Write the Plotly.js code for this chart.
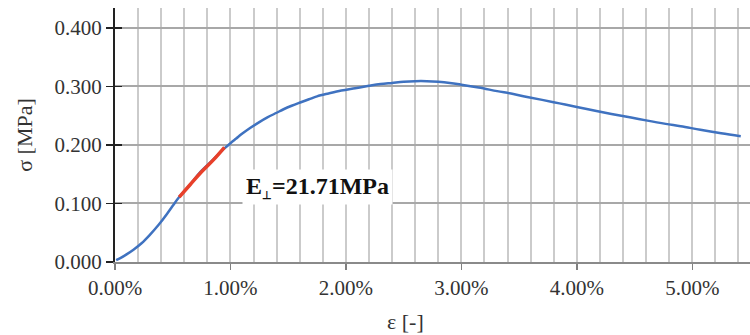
<!DOCTYPE html>
<html>
<head>
<meta charset="utf-8">
<script src="https://cdn.plot.ly/plotly-3.0.1.min.js"></script>
<style>html,body{margin:0;padding:0;background:#fff;}#chart{width:750px;height:335px;}</style>
</head>
<body>
<div id="chart"></div>
<script>
// strain in %, stress in MPa
const strain = [0.01, 0.05, 0.10, 0.16, 0.23, 0.30, 0.38, 0.45, 0.50, 0.556, 0.65, 0.74, 0.85, 0.948, 1.00, 1.05, 1.10, 1.17, 1.25, 1.32, 1.40, 1.46, 1.53, 1.61, 1.68, 1.75, 1.85, 1.96, 2.08, 2.20, 2.30, 2.40, 2.50, 2.60, 2.70, 2.80, 2.90, 3.00, 3.15, 3.31, 3.45, 3.57, 3.70, 3.85, 4.00, 4.17, 4.30, 4.47, 4.60, 4.77, 4.90, 5.07, 5.25, 5.42];
const stress = [0.003, 0.007, 0.013, 0.021, 0.032, 0.046, 0.064, 0.082, 0.096, 0.111, 0.132, 0.154, 0.175, 0.194, 0.203, 0.211, 0.219, 0.229, 0.239, 0.247, 0.255, 0.261, 0.267, 0.273, 0.278, 0.283, 0.288, 0.293, 0.297, 0.301, 0.304, 0.306, 0.308, 0.309, 0.309, 0.308, 0.306, 0.303, 0.298, 0.292, 0.287, 0.282, 0.277, 0.271, 0.265, 0.258, 0.253, 0.247, 0.242, 0.236, 0.232, 0.226, 0.220, 0.215];
const fitStrain = [0.556, 0.65, 0.74, 0.85, 0.948];
const fitStress = [0.111, 0.132, 0.152, 0.174, 0.196];
const xTicks = [0, 1, 2, 3, 4, 5];
const xTickLabels = ["0.00%", "1.00%", "2.00%", "3.00%", "4.00%", "5.00%"];
const yTicks = [0, 0.1, 0.2, 0.3, 0.4];
const yTickLabels = ["0.000", "0.100", "0.200", "0.300", "0.400"];
const annText = "<b>E<sub><span style=\"font-size:11px\">⊥</span></sub>=21.71MPa</b>";
const xTitle = "ε [-]";
const yTitle = "σ [MPa]";

const serif = "Liberation Serif, Times New Roman, serif";

const traces = [
  {x: strain, y: stress, type: 'scatter', mode: 'lines', line: {color: '#3f72c0', width: 2.5, shape: 'spline', smoothing: 1}, hoverinfo: 'skip'},
  {x: fitStrain, y: fitStress, type: 'scatter', mode: 'lines', line: {color: '#e8402a', width: 3.5, shape: 'spline'}, hoverinfo: 'skip'},
  {x: [null], y: [null], yaxis: 'y2', xaxis: 'x', showlegend: false, hoverinfo: 'skip'}
];

const layout = {
  width: 750, height: 335,
  margin: {l: 115, r: 0, t: 8, b: 73},
  paper_bgcolor: '#fff', plot_bgcolor: '#fff',
  showlegend: false,
  font: {family: serif, color: '#333', size: 21},
  xaxis: {
    range: [0, 5.5],
    tickvals: xTicks, ticktext: xTickLabels,
    ticks: 'outside', ticklen: 6, tickwidth: 1.5, tickcolor: '#808080',
    showline: true, linecolor: '#8a8a8a', linewidth: 2,
    showgrid: true, gridcolor: '#cbcbcb', gridwidth: 2,
    minor: {dtick: 0.2, showgrid: true, gridcolor: '#cbcbcb', gridwidth: 2},
    zeroline: false,
    tickfont: {family: serif, size: 21, color: '#333'}
  },
  yaxis: {
    range: [0, 0.434],
    tickvals: yTicks, ticktext: yTickLabels,
    ticks: 'outside', ticklen: 7, tickwidth: 1.5, tickcolor: '#222',
    showline: true, linecolor: '#222', linewidth: 2,
    showgrid: true, gridcolor: '#a8a8a8', gridwidth: 2,
    zeroline: false,
    tickfont: {family: serif, size: 21, color: '#333'},
    title: {text: yTitle, font: {family: serif, size: 22, color: '#333'}, standoff: 16}
  },
  yaxis2: {
    overlaying: 'y', range: [0, 0.434], tickvals: yTicks,
    ticks: 'inside', ticklen: 7, tickwidth: 1.5, tickcolor: '#222',
    showticklabels: false, showgrid: false, zeroline: false, showline: false
  },
  annotations: [
    {x: 1.1, y: 0.129, xref: 'x', yref: 'y', xanchor: 'left', yanchor: 'middle', showarrow: false,
     text: annText, font: {family: serif, size: 24, color: '#111'}, bgcolor: '#fff', borderpad: 3},
    {x: 0.457, y: -0.235, xref: 'paper', yref: 'paper', xanchor: 'center', yanchor: 'middle', showarrow: false,
     text: xTitle, font: {family: serif, size: 22, color: '#333'}}
  ]
};

Plotly.newPlot('chart', traces, layout, {staticPlot: true, displayModeBar: false});
</script>
</body>
</html>
